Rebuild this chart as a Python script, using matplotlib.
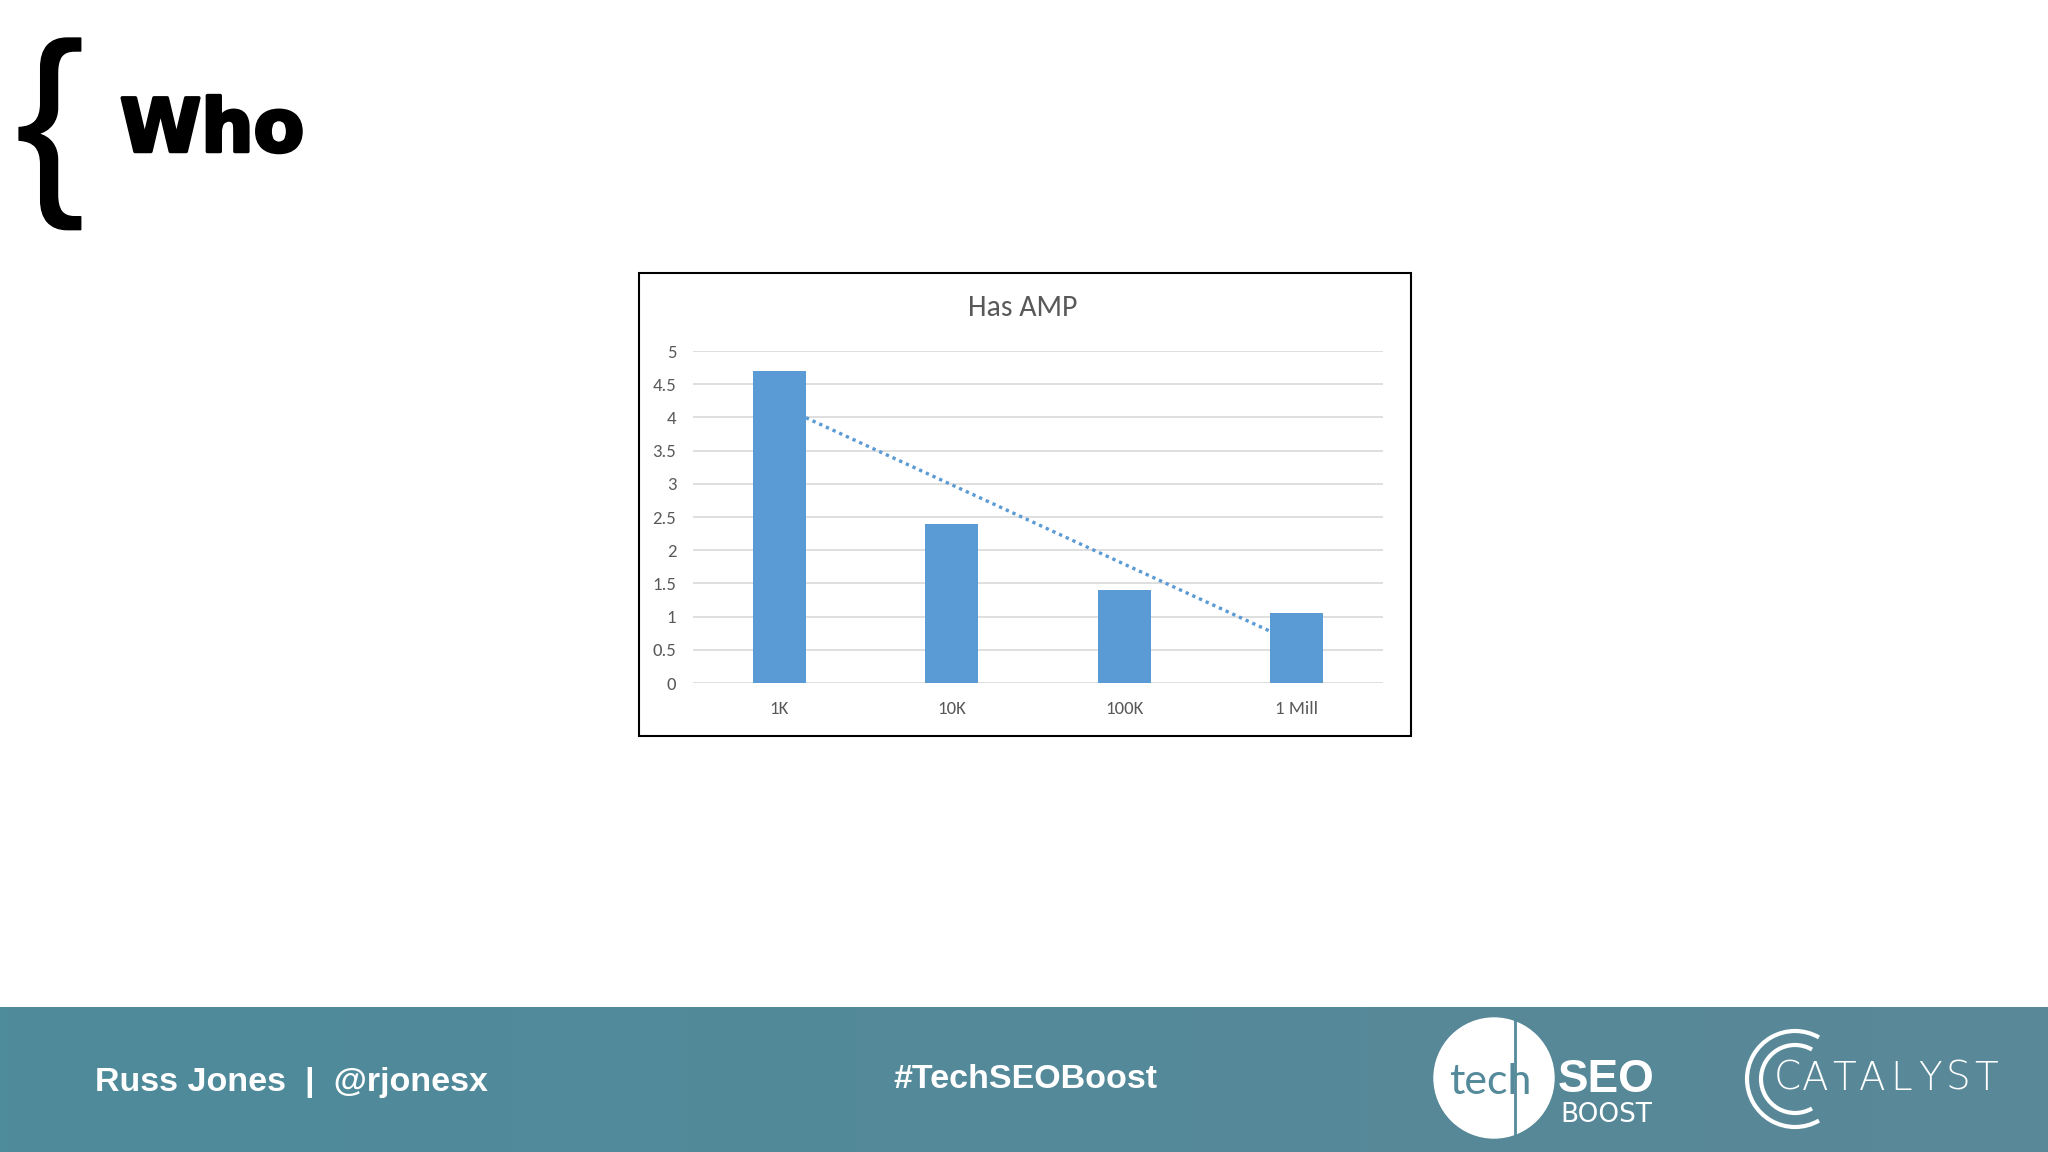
import matplotlib
matplotlib.use("Agg")
import matplotlib.pyplot as plt
import matplotlib.patheffects as pe
import numpy as np
from matplotlib import font_manager
from matplotlib.colors import LinearSegmentedColormap
from matplotlib.patches import Arc, Circle, Rectangle

# chart data
categories = ["1K", "10K", "100K", "1 Mill"]
has_amp = [4.7, 2.4, 1.4, 1.05]
y_ticks = [0, 0.5, 1, 1.5, 2, 2.5, 3, 3.5, 4, 4.5, 5]
y_tick_labels = ["0", "0.5", "1", "1.5", "2", "2.5", "3", "3.5", "4", "4.5", "5"]
chart_title = "Has AMP"

# slide texts
slide_title = "Who"
footer_left = "Russ Jones  |  @rjonesx"
footer_mid = "#TechSEOBoost"
logo_word = "CATALYST"

BAR_BLUE = "#5b9bd5"
GRID = "#d9d9d9"
TEXT_GREY = "#595959"
W, H = 2048, 1152


def pick(*names: str) -> str:
    installed = {f.name for f in font_manager.fontManager.ttflist}
    for name in names:
        if name in installed:
            return name
    return "DejaVu Sans"


CHART_FONT = pick("Carlito", "Liberation Sans Narrow", "Open Sans", "Liberation Sans")
SANS = pick("Liberation Sans", "DejaVu Sans")
LIGHT_FONT = pick("Lato", "Open Sans", "Roboto")

fig = plt.figure(figsize=(W / 100, H / 100), dpi=100)
fig.patch.set_facecolor("white")

# full-page pixel axes for slide decoration
page = fig.add_axes([0, 0, 1, 1])
page.axis("off")

# footer band with slight gradient
band_cmap = LinearSegmentedColormap.from_list("band", ["#4e8b9b", "#5a8898"])
page.imshow(np.linspace(0, 1, 256)[None, :], extent=(0, W, H, 1007), cmap=band_cmap,
            aspect="auto", zorder=0)
page.set_xlim(0, W)
page.set_ylim(H, 0)

# title with brace
page.text(50, 134, "{", fontsize=148, family=SANS,
          ha="center", va="center", color="black",
          path_effects=[pe.withStroke(linewidth=1, foreground="black")])
page.text(120, 131, slide_title, fontsize=53, family="DejaVu Sans", fontweight="bold",
          ha="left", va="center", color="black",
          path_effects=[pe.withStroke(linewidth=2.5, foreground="black")])

# footer texts
page.text(95, 1082, footer_left, fontsize=24.5, family=SANS, fontweight="bold",
          color="white", ha="left", va="center")
page.text(1025, 1080, footer_mid, fontsize=24.5, family=SANS, fontweight="bold",
          color="white", ha="center", va="center")

# techSEO boost logo
page.add_patch(Circle((1494, 1078), 60, color="white", zorder=2))
page.plot([1515, 1515], [1020, 1136], color="#548a9a", lw=2, zorder=3)
page.text(1490, 1082, "tech", fontsize=31, family=LIGHT_FONT, color="#548a9a",
          ha="center", va="center", zorder=4)
page.text(1558, 1080, "SEO", fontsize=33, family=SANS, fontweight="bold",
          color="white", ha="left", va="center")
page.text(1560, 1115, "BOOST", fontsize=19, family="DejaVu Sans",
          color="white", ha="left", va="center")

# catalyst logo
for r in (34, 48):
    page.add_patch(Arc((1795, 1079), 2 * r, 2 * r, theta1=60, theta2=300,
                       color="white", lw=3))
for i, ch in enumerate(logo_word):
    page.text(1787 + 28.5 * i, 1079, ch, fontsize=28, family="DejaVu Sans",
              fontweight="light", color="white", ha="center", va="center")

# chart frame
page.add_patch(Rectangle((639, 273), 772, 463, facecolor="white", edgecolor="black",
                         lw=1.5, zorder=1))
page.text(1023, 308, chart_title, fontsize=21.5, family=CHART_FONT, color=TEXT_GREY,
          ha="center", va="center", zorder=3)

# chart axes
ax = fig.add_axes([693 / W, 1 - 683 / H, 690 / W, 332 / H])
ax.set_facecolor("none")
x = np.arange(len(categories))
ax.bar(x, has_amp, width=0.31, color=BAR_BLUE, zorder=3)

# linear trendline behind bars
slope, intercept = np.polyfit(x, has_amp, 1)
ax.plot([x[0], x[-1]], [intercept + slope * x[0], intercept + slope * x[-1]],
        linestyle=(0, (1, 1.2)), color=BAR_BLUE, lw=2.4, zorder=2)

ax.set_xlim(-0.5, len(categories) - 0.5)
ax.set_ylim(0, 5)
ax.set_yticks(y_ticks)
ax.set_yticklabels(y_tick_labels)
ax.set_xticks(x)
ax.set_xticklabels(categories)
ax.grid(axis="y", color=GRID, lw=1.2, zorder=0)
ax.set_axisbelow(True)
for side in ("top", "right", "left", "bottom"):
    ax.spines[side].set_visible(False)
ax.tick_params(axis="both", length=0, labelsize=13.5, colors=TEXT_GREY)
ax.tick_params(axis="x", pad=13)
ax.tick_params(axis="y", pad=12)
for lab in ax.get_xticklabels() + ax.get_yticklabels():
    lab.set_family(CHART_FONT)

fig.savefig("out.png", dpi=100, facecolor="white")
